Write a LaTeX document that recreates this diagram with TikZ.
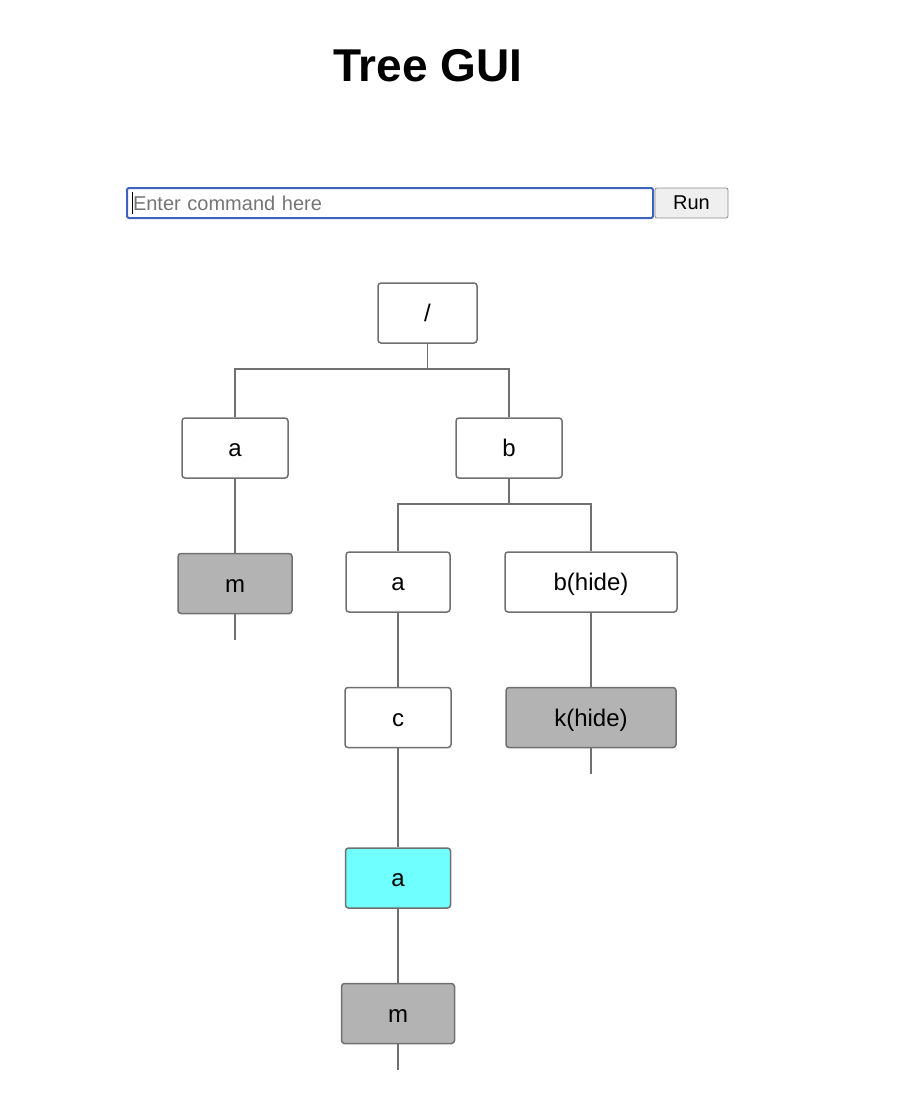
\documentclass[tikz,border=0pt]{standalone}
\usepackage{fontspec}
\setmainfont{Liberation Sans}
\usetikzlibrary{positioning}

\definecolor{boxline}{HTML}{707070}
\definecolor{hidegray}{HTML}{B3B3B3}
\definecolor{selcyan}{HTML}{70FFFF}
\definecolor{focusblue}{HTML}{3C64BE}
\definecolor{btnfill}{HTML}{EFEFEF}
\definecolor{hintgray}{HTML}{757575}

\begin{document}
\begin{tikzpicture}[x=1pt, y=-1pt, node distance=74pt,
    treenode/.style={draw=boxline, line width=1.5pt, rounded corners=3pt, fill=white,
        minimum height=60pt, inner sep=0pt, text height=19pt, text depth=2pt,
        font=\fontsize{24}{28}\selectfont},
    hidden/.style={treenode, fill=hidegray},
    selected/.style={treenode, fill=selcyan},
    branch/.style={draw=boxline, line width=1.5pt}]
    \useasboundingbox (0,0) rectangle (898,1116);

    % Title and command line
    \node (title) at (428,66) {\fontsize{46}{50}\selectfont\bfseries Tree GUI};
    \node (cmd) [draw=focusblue, line width=2pt, rounded corners=2pt, minimum height=30pt,
        text width=514pt, inner xsep=6pt, inner ysep=0pt, align=left,
        text=hintgray, font=\fontsize{20}{24}\selectfont] at (390,203) {Enter command here};
    \node (run) [draw=boxline!80, fill=btnfill, line width=0.8pt, rounded corners=2pt,
        minimum width=73pt, minimum height=30pt, inner sep=0pt,
        font=\fontsize{20}{24}\selectfont] at (691.5,203) {Run};
    \draw[line width=1pt] (132,192) -- (132,214);

    % Tree nodes
    \node (root) [treenode, minimum width=99pt] at (427.5,313) {/};
    \node (a) [treenode, minimum width=106pt] at (235,448) {a};
    \node (b) [treenode, minimum width=106pt] at (509,448) {b};
    \node (m) [hidden, minimum width=114pt, below=of a] {m};
    \node (ba) [treenode, minimum width=104pt] at (398,582) {a};
    \node (bhide) [treenode, minimum width=172pt] at (591,582) {b(hide)};
    \node (c) [treenode, minimum width=106pt, below=of ba] {c};
    \node (khide) [hidden, minimum width=170pt, below=of bhide] {k(hide)};
    \node (ca) [selected, minimum width=105pt, below=99pt of c] {a};
    \node (cm) [hidden, minimum width=113pt, below=of ca] {m};

    % Stub ends
    \coordinate (mEnd) at ([yshift=-26pt]m.south);
    \coordinate (kEnd) at ([yshift=-26pt]khide.south);
    \coordinate (cmEnd) at ([yshift=-26pt]cm.south);

    % Branches
    \draw[branch] (root.south) -- ++(0,25) -| (a.north);
    \draw[branch] (root.south) -- ++(0,25) -| (b.north);
    \draw[branch] (b.south) -- ++(0,25) -| (ba.north);
    \draw[branch] (b.south) -- ++(0,25) -| (bhide.north);
    \draw[branch] (a) -- (m);
    \draw[branch] (ba) -- (c);
    \draw[branch] (bhide) -- (khide);
    \draw[branch] (c) -- (ca);
    \draw[branch] (ca) -- (cm);
    \draw[branch] (m) -- (mEnd);
    \draw[branch] (khide) -- (kEnd);
    \draw[branch] (cm) -- (cmEnd);
\end{tikzpicture}
\end{document}
